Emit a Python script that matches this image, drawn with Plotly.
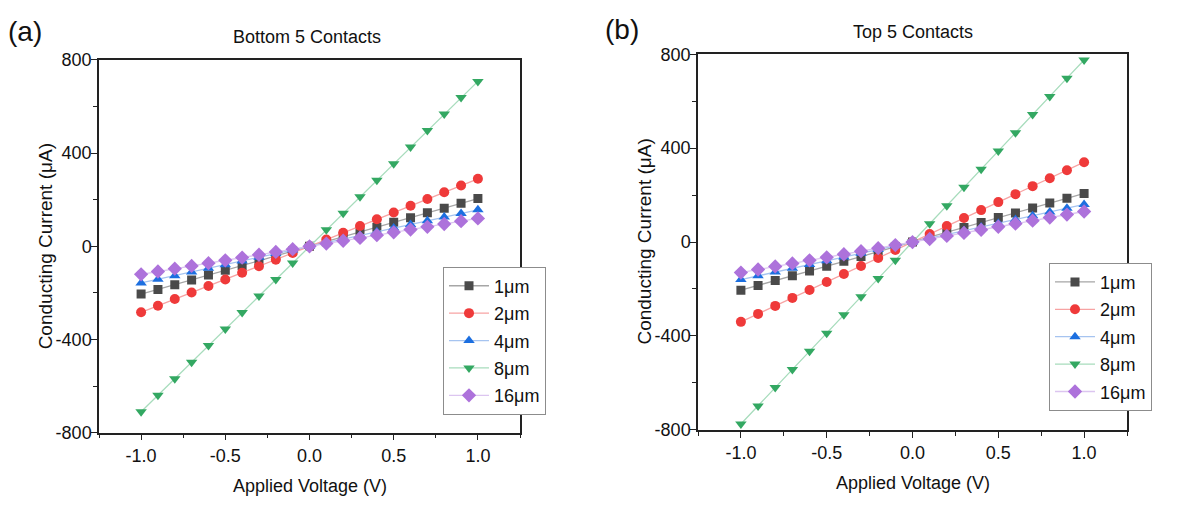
import plotly.graph_objects as go

# Applied voltage sweep (V)
voltage = [-1.0, -0.9, -0.8, -0.7, -0.6, -0.5, -0.4, -0.3, -0.2, -0.1, 0.0,
           0.1, 0.2, 0.3, 0.4, 0.5, 0.6, 0.7, 0.8, 0.9, 1.0]

series_names = ["1μm", "2μm", "4μm", "8μm", "16μm"]

# Bottom 5 contacts, conducting current (μA)
bottom_1um = [-205, -185, -165, -144, -123, -103, -82, -62, -41, -20, 0,
              20, 41, 62, 82, 103, 123, 144, 164, 185, 205]
bottom_2um = [-283, -255, -226, -198, -170, -142, -113, -85, -57, -28, 0,
              29, 58, 87, 116, 145, 174, 203, 232, 261, 290]
bottom_4um = [-157, -141, -126, -110, -94, -79, -63, -47, -31, -16, 0,
              16, 31, 47, 63, 79, 94, 110, 126, 141, 157]
bottom_8um = [-710, -639, -568, -497, -426, -355, -284, -213, -142, -71, 0,
              71, 142, 213, 284, 355, 426, 497, 568, 639, 708]
bottom_16um = [-120, -108, -96, -84, -72, -60, -48, -36, -24, -12, 0,
               12, 24, 36, 48, 60, 72, 84, 96, 108, 120]

# Top 5 contacts, conducting current (μA)
top_1um = [-205, -185, -164, -144, -123, -103, -82, -62, -41, -20, 0,
           21, 41, 62, 83, 104, 124, 145, 166, 186, 207]
top_2um = [-340, -306, -272, -238, -204, -170, -136, -102, -68, -34, 0,
           34, 68, 102, 136, 170, 204, 238, 272, 306, 340]
top_4um = [-160, -144, -128, -112, -96, -80, -64, -48, -32, -16, 0,
           16, 32, 48, 64, 80, 96, 112, 128, 144, 160]
top_8um = [-775, -698, -620, -543, -465, -388, -310, -233, -155, -78, 0,
           78, 155, 233, 310, 388, 465, 543, 620, 698, 775]
top_16um = [-130, -117, -104, -91, -78, -65, -52, -39, -26, -13, 0,
            13, 26, 39, 52, 65, 78, 91, 104, 117, 130]

# Tick positions and labels (plain hyphen as minus sign)
x_tickvals = [-1.0, -0.5, 0.0, 0.5, 1.0]
x_ticktext = ["-1.0", "-0.5", "0.0", "0.5", "1.0"]
y_tickvals = [-800, -400, 0, 400, 800]
y_ticktext = ["-800", "-400", "0", "400", "800"]

bottom_series = [bottom_1um, bottom_2um, bottom_4um, bottom_8um, bottom_16um]
top_series = [top_1um, top_2um, top_4um, top_8um, top_16um]

marker_colors = ["#4a4a4a", "#ef3a3a", "#1c6fe0", "#33a862", "#ad72db"]
line_colors = ["#a6a6a6", "#f7a3a3", "#a6c4f0", "#a7dcbc", "#dcc5f0"]
symbols = ["square", "circle", "triangle-up", "triangle-down", "diamond"]
marker_sizes = [9, 10, 10, 10, 11]

FONT = "Arial, Liberation Sans, sans-serif"

fig = go.Figure()

for data, xa, ya, leg in [(bottom_series, "x", "y", "legend"),
                          (top_series, "x2", "y2", "legend2")]:
    for i, name in enumerate(series_names):
        fig.add_trace(go.Scatter(
            x=voltage, y=data[i], name=name, mode="lines+markers",
            xaxis=xa, yaxis=ya, legend=leg,
            legendgroup=f"{leg}_{i}",
            line=dict(color=line_colors[i], width=1.3),
            marker=dict(symbol=symbols[i], size=marker_sizes[i],
                        color=marker_colors[i], line=dict(width=0)),
        ))

axis_common = dict(
    showline=True, linecolor="#222222", linewidth=1.5, mirror=True,
    ticks="outside", ticklen=6, tickwidth=1.3, tickcolor="#222222",
    showgrid=False, zeroline=False,
    tickfont=dict(family=FONT, size=18, color="#111111"),
)
x_common = dict(axis_common, range=[-1.25, 1.25],
                tickmode="array", tickvals=x_tickvals, ticktext=x_ticktext,
                minor=dict(ticks="outside", ticklen=4, tickwidth=1.2,
                           tickcolor="#222222", dtick=0.25, tick0=-1.0,
                           showgrid=False))
y_common = dict(axis_common, range=[-800, 800], ticklabelstandoff=-4,
                tickmode="array", tickvals=y_tickvals, ticktext=y_ticktext,
                minor=dict(ticks="outside", ticklen=4, tickwidth=1.2,
                           tickcolor="#222222", dtick=200, tick0=-800,
                           showgrid=False))

W, H = 1194, 510
legend_common = dict(
    font=dict(family=FONT, size=18, color="#111111"),
    bordercolor="#8c8c8c", borderwidth=1, bgcolor="white",
    xanchor="left", yanchor="top", tracegroupgap=1, itemwidth=40,
)

fig.update_layout(
    width=W, height=H,
    margin=dict(l=0, r=0, t=0, b=0),
    paper_bgcolor="white", plot_bgcolor="white",
    font=dict(family=FONT, color="#111111"),
    xaxis=dict(x_common, domain=[99 / W, 520 / W], anchor="y"),
    yaxis=dict(y_common, domain=[1 - 440 / H, 1 - 52 / H], anchor="x"),
    xaxis2=dict(x_common, domain=[698 / W, 1127 / W], anchor="y2"),
    yaxis2=dict(y_common, domain=[1 - 437 / H, 1 - 46 / H], anchor="x2"),
    legend=dict(legend_common, x=443 / W, y=1 - 267 / H),
    legend2=dict(legend_common, x=1049 / W, y=1 - 263 / H),
    showlegend=True,
)

annotations = [
    dict(text="(a)", x=6 / W, y=1 - 22 / H, xanchor="left", yanchor="middle",
         font=dict(size=28)),
    dict(text="(b)", x=603 / W, y=1 - 20 / H, xanchor="left", yanchor="middle",
         font=dict(size=28)),
    dict(text="Bottom 5 Contacts", x=307 / W, y=1 - 28 / H, xanchor="center",
         yanchor="middle", font=dict(size=18)),
    dict(text="Top 5 Contacts", x=913 / W, y=1 - 23 / H, xanchor="center",
         yanchor="middle", font=dict(size=18)),
    dict(text="Applied Voltage (V)", x=309.5 / W, y=1 - 495 / H,
         xanchor="center", yanchor="middle", font=dict(size=18)),
    dict(text="Applied Voltage (V)", x=912.5 / W, y=1 - 492 / H,
         xanchor="center", yanchor="middle", font=dict(size=18)),
    dict(text="Conducting Current (μA)", x=45 / W, y=1 - 246 / H,
         xanchor="center", yanchor="middle", textangle=-90,
         font=dict(size=19)),
    dict(text="Conducting Current (μA)", x=645 / W, y=1 - 241 / H,
         xanchor="center", yanchor="middle", textangle=-90,
         font=dict(size=19)),
]
for a in annotations:
    a.update(xref="paper", yref="paper", showarrow=False)
    a["font"] = dict(family=FONT, color="#111111", **a["font"])
fig.update_layout(annotations=annotations)

fig.write_html("out.html")
